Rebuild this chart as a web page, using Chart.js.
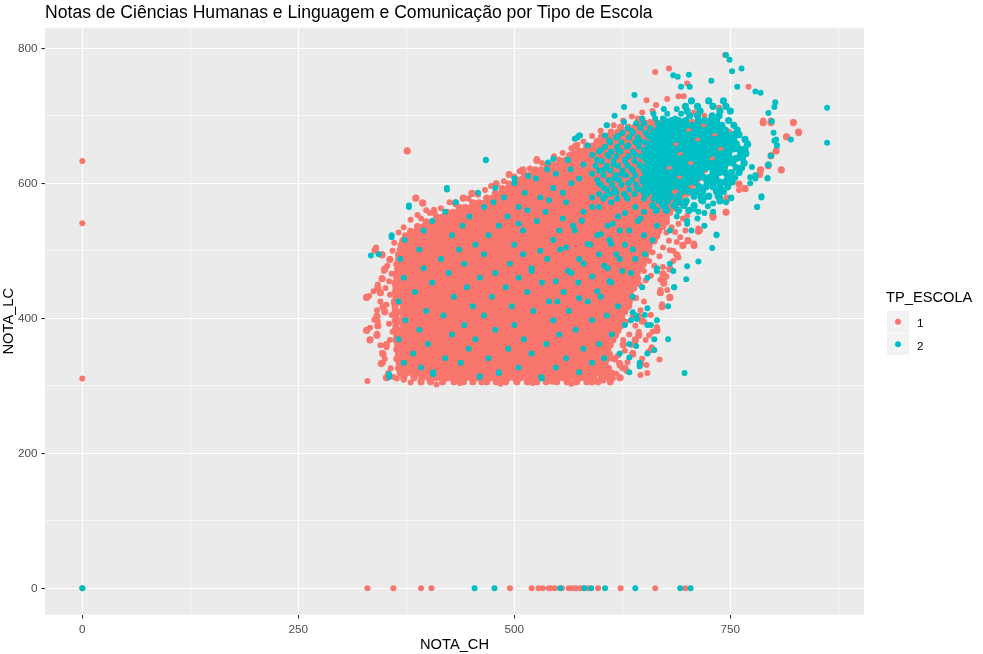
<!DOCTYPE html>
<html>
<head>
<meta charset="utf-8">
<script src="https://cdn.jsdelivr.net/npm/chart.js"></script>
<style>
html,body{margin:0;padding:0;background:#fff;}
#wrap{width:983px;height:654px;}
</style>
</head>
<body>
<div id="wrap"><canvas id="c" width="983" height="654"></canvas></div>
<script>
// ---------- text ----------
const chartTitle = 'Notas de Ciências Humanas e Linguagem e Comunicação por Tipo de Escola';
const xTitle = 'NOTA_CH';
const yTitle = 'NOTA_LC';
const legendTitle = 'TP_ESCOLA';
const seriesLabels = ['1', '2'];
const seriesColors = ['#F8766D', '#00BFC4'];
const xTicks = [0, 125, 250, 375, 500, 625, 750, 875];
const yTicks = [0, 100, 200, 300, 400, 500, 600, 700, 800];

// ---------- TP_ESCOLA = 1 : dense cloud, rows of NOTA_LC with NOTA_CH values ----------
const lc1Rows = [306,312,319,326,333,340,347,354,361,368,375,382,389,396,403,410,417,424,431,438,445,452,459,466,473,480,487,494,501,508,515,522,529,536,543,550,557,564,571,578,585,592,599,606,613,620,627,634,641,648,655,662,669,676,683,690];
const ch1Rows = [
[392,403,417,430,441,452,468,479,490,503,515,526,537,549,561,572,584,597,611],
[352,372,384,393,401,409,416,423,430,437,444,451,458,465,472,479,486,493,500,507,514,521,528,535,542,549,556,563,570,577,584,592,601,610,622],
[368,375,382,389,396,403,410,417,424,431,438,445,452,459,466,473,480,487,494,501,508,515,522,529,536,543,550,557,564,571,578,585,592,599,606,613],
[366,371,378,385,392,399,406,413,420,427,434,441,448,455,462,469,476,483,490,497,504,511,518,525,532,539,546,553,560,567,574,581,588,595,602,609,628],
[346,367,374,381,388,395,402,409,416,423,430,437,444,451,458,465,472,479,486,493,500,507,514,521,528,535,542,549,556,563,570,577,584,591,598,605,622,646],
[364,370,377,384,391,398,405,412,419,426,433,440,447,454,461,468,475,482,489,496,503,510,517,524,531,538,545,552,559,566,573,580,587,594,601,607,616],
[348,366,373,380,387,394,401,408,415,422,429,436,443,450,457,464,471,478,485,492,499,506,513,520,527,534,541,548,555,562,569,576,583,590,597,604,610,637],
[364,370,377,384,391,398,405,412,419,426,433,440,447,454,461,468,475,482,489,496,503,510,517,524,531,538,545,552,559,566,573,580,587,594,601,608,659],
[352,365,373,380,387,394,401,408,415,422,429,436,443,450,457,464,471,478,485,492,499,506,513,520,527,534,541,548,555,562,569,576,583,590,597,604,611,626],
[333,363,369,376,383,390,397,404,411,418,425,432,439,446,453,460,467,474,481,488,495,502,509,516,523,530,537,544,551,558,565,572,579,586,593,600,607,614,640],
[341,364,372,379,386,393,400,407,414,421,428,435,442,449,456,463,470,477,484,491,498,505,512,519,526,533,540,547,554,561,568,575,582,589,596,603,610,617,644],
[329,362,369,376,383,390,397,404,411,418,425,432,439,446,453,460,467,474,481,488,495,502,509,516,523,530,537,544,551,558,565,572,579,586,593,600,607,614,620,665],
[342,363,372,379,386,393,400,407,414,421,428,435,442,449,456,463,470,477,484,491,498,505,512,519,526,533,540,547,554,561,568,575,582,589,596,603,610,617,623],
[362,369,376,383,390,397,404,411,418,425,432,439,446,453,460,467,474,481,488,495,502,509,516,523,530,537,544,551,558,565,572,579,586,593,600,607,614,621,626,648],
[341,363,372,379,386,393,400,407,414,421,428,435,442,449,456,463,470,477,484,491,498,505,512,519,526,533,540,547,554,561,568,575,582,589,596,603,610,617,624,644],
[350,362,369,376,383,390,397,404,411,418,425,432,439,446,453,460,467,474,481,488,495,502,509,516,523,530,537,544,551,558,565,572,579,586,593,600,607,614,621,628],
[348,362,372,379,386,393,400,407,414,421,428,435,442,449,456,463,470,477,484,491,498,505,512,519,526,533,540,547,554,561,568,575,582,589,596,603,610,617,624,631,671],
[361,368,375,382,389,396,403,410,417,424,431,438,445,452,459,466,473,480,487,494,501,508,515,522,529,536,543,550,557,564,571,578,585,592,599,606,613,620,627,633],
[329,363,371,378,385,392,399,406,413,420,427,434,441,448,455,462,469,476,483,490,497,504,511,518,525,532,539,546,553,560,567,574,581,588,595,602,609,616,623,630,636,680],
[345,362,368,375,382,389,396,403,410,417,424,431,438,445,452,459,466,473,480,487,494,501,508,515,522,529,536,543,550,557,564,571,578,585,592,599,606,613,620,627,634,669],
[342,363,371,378,385,392,399,406,413,420,427,434,441,448,455,462,469,476,483,490,497,504,511,518,525,532,539,546,553,560,567,574,581,588,595,602,609,616,623,630,638],
[362,368,375,382,389,396,403,410,417,424,431,438,445,452,459,466,473,480,487,494,501,508,515,522,529,536,543,550,557,564,571,578,585,592,599,606,613,620,627,634,640,673],
[347,364,371,378,385,392,399,406,413,420,427,434,441,448,455,462,469,476,483,490,497,504,511,518,525,532,539,546,553,560,567,574,581,588,595,602,609,616,623,630,637,643],
[363,369,376,383,390,397,404,411,418,425,432,439,446,453,460,467,474,481,488,495,502,509,516,523,530,537,544,551,558,565,572,579,586,593,600,607,614,621,628,635,642,672],
[350,365,372,379,386,393,400,407,414,421,428,435,442,449,456,463,470,477,484,491,498,505,512,519,526,533,540,547,554,561,568,575,582,589,596,603,610,617,624,631,638,646,680],
[364,370,377,384,391,398,405,412,419,426,433,440,447,454,461,468,475,482,489,496,503,510,517,524,531,538,545,552,559,566,573,580,587,594,601,608,615,622,629,636,643,649],
[356,366,373,380,387,394,401,408,415,422,429,436,443,450,457,464,471,478,485,492,499,506,513,520,527,534,541,548,555,562,569,576,583,590,597,604,611,618,625,632,639,646,652],
[347,366,372,379,386,393,400,407,414,421,428,435,442,449,456,463,470,477,484,491,498,505,512,519,526,533,540,547,554,561,568,575,582,589,596,603,610,617,624,631,638,645,652,688],
[339,368,375,382,389,396,403,410,417,424,431,438,445,452,459,466,473,480,487,494,501,508,515,522,529,536,543,550,557,564,571,578,585,592,599,606,613,620,627,634,641,648,655],
[369,376,383,390,397,404,411,418,425,432,439,446,453,460,467,474,481,488,495,502,509,516,523,530,537,544,551,558,565,572,579,586,593,600,607,614,621,628,635,642,649,656,695,708],
[371,378,385,392,399,406,413,420,427,434,441,448,455,462,469,476,483,490,497,504,511,518,525,532,539,546,553,560,567,574,581,588,595,602,609,616,623,630,637,644,651,658,662,701],
[374,381,388,395,402,409,416,423,430,437,444,451,458,465,472,479,486,493,500,507,514,521,528,535,542,549,556,563,570,577,584,591,598,605,612,619,626,633,640,647,654,661,665],
[380,387,394,401,408,415,422,429,436,443,450,457,464,471,478,485,492,499,506,513,520,527,534,541,548,555,562,569,576,583,590,597,604,611,618,625,632,639,646,653,660,667,713],
[388,395,402,409,416,423,430,437,444,451,458,465,472,479,486,493,500,507,514,521,528,535,542,549,556,563,570,577,584,591,598,605,612,619,626,633,640,647,654,661,668,672],
[398,405,412,419,426,433,440,447,454,461,468,475,482,489,496,503,510,517,524,531,538,545,552,559,566,573,580,587,594,601,608,615,622,629,636,643,650,657,664,671,676],
[410,417,424,431,438,445,452,459,466,473,480,487,494,501,508,515,522,529,536,543,550,557,564,571,578,585,592,599,606,613,620,627,634,641,648,655,662,669,676,730],
[407,422,429,436,443,450,457,464,471,478,485,492,499,506,513,520,527,534,541,548,555,562,569,576,583,590,597,604,611,618,625,632,639,646,653,660,667,674,680,745],
[436,443,450,457,464,471,478,485,492,499,506,513,520,527,534,541,548,555,562,569,576,583,590,597,604,611,618,625,632,639,646,653,660,667,674,681,686],
[394,432,452,459,466,473,480,487,494,501,508,515,522,529,536,543,550,557,564,571,578,585,592,599,606,613,620,627,634,641,648,655,662,669,676,683,689],
[386,441,468,475,482,489,496,503,510,517,524,531,538,545,552,559,566,573,580,587,594,601,608,615,622,629,636,643,650,657,664,671,678,685,692,746],
[451,478,485,492,499,506,513,520,527,534,541,548,555,562,569,576,583,590,597,604,611,618,625,632,639,646,653,660,667,674,681,688,695,700],
[486,493,500,507,514,521,528,535,542,549,556,563,570,577,584,591,598,605,612,619,626,633,640,647,654,661,668,675,682,689,696,703,767],
[479,494,501,508,515,522,529,536,543,550,557,564,571,578,585,592,599,606,613,620,627,634,641,648,655,662,669,676,683,690,697,704,708,760],
[502,509,516,523,530,537,544,551,558,565,572,579,586,593,600,607,614,621,628,635,642,649,656,663,670,677,684,691,698,705,712],
[494,512,519,526,533,540,547,554,561,568,575,582,589,596,603,610,617,624,631,638,645,652,659,666,673,680,687,694,701,708,715,784],
[510,524,531,538,545,552,559,566,573,580,587,594,601,608,615,622,629,636,643,650,657,664,671,678,685,692,699,706,713,720,785,809],
[538,545,552,559,566,573,580,587,594,601,608,615,622,629,636,643,650,657,664,671,678,685,692,699,706,713,720,727,794],
[526,552,559,566,573,580,587,594,601,608,615,622,629,636,643,650,657,664,671,678,685,692,699,706,713,720,727,733],
[564,571,578,585,592,599,606,613,620,627,634,641,648,655,662,669,676,683,690,697,704,711,718,725,732,738,797],
[376,574,581,588,595,602,609,616,623,630,637,644,651,658,665,672,679,686,693,700,707,714,721,728,735,742,803],
[571,584,591,598,605,612,619,626,633,640,647,654,661,668,675,682,689,696,703,710,717,724,731,738,745],
[596,603,610,617,624,631,638,645,652,659,666,673,680,687,694,701,708,715,722,729,736,743,748],
[601,608,615,622,629,636,643,650,657,664,671,678,685,692,699,706,713,720,727,734,741,750,815],
[612,620,627,634,641,648,655,662,669,676,683,690,697,704,711,718,725,732,739,748,829],
[623,632,639,646,653,660,667,674,681,688,695,702,709,716,723,730,740],
[643,650,657,664,671,678,685,692,699,706,713,720,728,788,797,823]
];
// TP_ESCOLA = 1 : isolated and edge points
const ch1Extra = [0,0,0,0,330,360,392,404,495,520,528,533,540,542,547,555,563,567,571,576,580,586,597,623,663,698,
 663,679,744,771,700,690,696,677,653,664,660,643,708,720,737,479,494,510,526,441,451,432,407,767,760,746,745,730,715,713,708,729,688,701,785,784,794,823,829,815,797,788,
 386,394,340,347,347,342,332,356,341,350,342,333,341,352,347,348,354,364,330,
 680,669,671,665,659,668,654,646,637,644,622,611,601,588,573,605,614,561,673,680,677,672,669,680,653,630,640,656,
 355,358,352,356,351,358,353,359,361,366,372,380,388,398,345,337,359,356,350,357,360,345,338,355,349,
 410,437,462,484,521,544,566,590,603,380,372,
 618,625,631,620,628,635,626,633,640,629,637,646,633,650,641,623,648,655,652,660,650,658,
 645,652,658,650,662,656,668,660,672,664,676,682,690,695,700,686,679,684,690,676,684,692,698,
 392,402,415,425,447,458,466,473,488,500,506,518,532,546,556,566,580,590,600,615,626,636,648,573,568];
const lc1Extra = [633,541,311,0,0,0,0,0,0,0,0,0,0,0,0,0,0,0,0,0,0,0,0,0,0,0,
 765,770,790,743,748,729,729,725,723,716,707,696,705,700,712,600,613,616,636,578,584,569,561,593,590,575,558,555,531,533,511,553,513,516,620,615,625,690,674,669,693,693,
 578,570,505,495,458,450,433,488,412,409,395,386,377,357,349,334,319,311,307,
 432,442,421,387,357,339,319,316,349,380,330,341,330,313,319,313,311,320,458,474,442,476,457,501,331,322,360,375,
 392,405,420,435,445,466,478,500,512,527,535,546,553,560,425,440,380,368,340,326,313,360,398,455,470,
 302,304,305,303,304,306,303,305,308,305,309,
 318,326,335,345,352,361,368,376,389,395,403,412,418,425,430,312,340,350,368,380,395,405,
 450,456,463,470,478,485,492,498,505,520,527,535,540,548,552,528,515,500,490,462,485,520,530,
 548,556,563,572,577,583,590,596,603,610,618,622,630,640,645,652,662,670,678,686,693,699,705,657,645];

// ---------- TP_ESCOLA = 2 ----------
const lc2SparseRows = [313,320,327,334,341,348,355,362,369,376,383,390,397,404,411,418,425,432,439,446,453,460,467,474,481,488,495,502,509,516,523,530,537,544,551,558,565,572,579,586,593,600,607,614,621,628,635,642,649,656,663,670,677];
const ch2SparseRows = [
[355,460,531],[406,482,575,633],[392,505,548],[372,438,590,645],[420,470,560,604],
[383,520,622,654],[447,493,580],[400,537,598,633],[366,455,511,662],[428,552,613],
[390,478,571],[442,500,628,658],[374,545,590],[418,465,607,641],[398,522,563],
[452,497,620,678],[366,540,585],[430,474,600,637],[385,515,557],[445,490,648,685],
[405,532,574,612],[372,460,505,654],[424,478,566,635],[395,520,608,665],[442,495,580],
[368,415,538,622],[343,465,510,598,651],[390,436,553,637],[455,500,588,628],[373,545,610,660],
[358,428,470,596,650,734],[395,510,552,622,680],[440,482,568,608,665,720],[405,526,578,643,700],[448,492,620,688],
[420,536,580,650,713,730],[378,465,505,598,640,675,781],[432,476,560,612,692,745],[488,530,590,630,720,751,786],[458,512,556,618,650],
[422,478,545,604,642],[500,566,598,632,773],[525,575,616,648,779,793],[548,590,624],[538,565,604,636],
[580,615,645,794],[467,562,596,628],[590,608,640],[600,620,650],[585,632,660,804],
[610,645,668,801],[620,655],[636,664]
];
const lc2MidRows = [577,584,591,598,605,612,619,626,633,640,647,654,661,668,675,682,689,696,703,710];
const ch2MidRows = [
[603,619,631,650,661],
[598,611,627,639,654],
[607,616,633,645,658],
[600,613,624,641,652,663],
[596,609,621,636,648,660],
[603,617,629,640,656],
[598,611,625,637,650,663],
[594,607,620,631,645,657,668],
[601,615,628,639,653,665],
[609,618,632,647,659,670],
[598,612,623,637,651,662],
[605,619,630,644,657,668],
[611,624,640,651,665,675],
[618,633,643,658,670],
[625,637,652,663,676],
[631,646,657,670,681],
[641,650,666,677,688],
[648,663,672,686],
[661,677,693],
[673,688]
];
const lc2CoreRows = [560,567,574,581,588,595,602,609,616,623,630,637,644,651,658,665,672,679,686,693,700,707,714,722];
const ch2CoreRows = [
[664,676,690,702],
[660,672,685,696,708],
[668,677,688,699,718,738],
[664,672,681,690,708,716,725,736],
[655,662,670,678,694,702,710,718,734,742],
[652,659,666,674,682,690,698,714,722,730,738,747],
[650,658,665,672,680,688,695,702,709,723,730,737,744,752],
[654,662,669,677,684,698,705,712,719,726,733,747,755],
[652,660,667,674,681,688,695,702,709,716,730,737,744,751,760],
[650,658,665,672,687,694,701,708,715,722,729,736,743,757,763],
[655,662,669,676,683,690,697,711,718,725,732,739,746,753,766],
[652,659,666,673,680,687,694,701,708,715,722,736,743,750,757,764],
[656,664,671,678,685,699,706,713,720,727,734,741,748,762,768],
[654,662,669,676,683,690,697,704,711,718,725,732,746,753,760,767],
[658,666,673,680,694,701,708,715,722,729,736,743,750,757,770],
[662,670,677,684,691,698,705,719,726,733,740,747,754,767],
[660,668,675,682,690,697,704,711,718,725,739,746,753,760],
[666,674,681,688,695,709,716,723,730,737,744,758],
[668,676,683,690,698,705,712,726,733,740,754],
[674,682,690,698,713,720,727,734,748],
[703,712,729,737],
[700,715,738,750],
[698,712,730,745],
[705,725,742]
];
const ch2Extra = [0,454,477,553,581,589,605,640,692,704,
 862,862,802,801,794,798,800,820,803,804,797,794,793,786,781,779,773,775,749,752,763,745,728,758,779,785,639,627,684,689,702,693,703,751,
 734,729,713,700,699,685,665,678,662,697,645,641,633,654,651,642,635,684,680,665,654,637,
 467,422,378,358,334,570,575,562,616,607,500,516,539,545,576,605,355,406,460,482,532,
 700,712,720,705,724,716,690,698,708,730,738,742,
 548,562,575,590,604,618,585,600,614,628,570,556,590,606,540,625,640,560,578,612,633,646,596,610,575,550,520,530,505,515,573,607,627];
const lc2Extra = [0,0,0,0,0,0,0,0,0,0,
 712,660,720,713,704,692,675,665,665,656,641,627,608,581,565,612,609,624,783,766,770,790,752,743,736,734,731,713,760,758,761,743,743,578,
 524,504,484,477,458,446,397,369,353,319,329,359,342,390,405,399,397,470,481,470,415,409,
 634,591,567,520,493,666,671,634,700,686,607,611,631,636,671,671,317,317,314,319,311,
 540,548,556,530,566,575,560,570,562,570,580,590,
 455,470,488,462,478,495,510,525,540,556,530,548,565,582,575,470,488,505,545,510,530,548,440,455,430,425,470,500,540,560,668,686,691];

// ---------- build points from the arrays ----------
function rowsToPoints(lcRows, chRows) {
  const pts = [];
  lcRows.forEach((lc, i) => (chRows[i] || []).forEach(ch => pts.push({x: ch, y: lc})));
  return pts;
}
function pairsToPoints(ch, lc) {
  const pts = [];
  const n = Math.min(ch.length, lc.length);
  for (let i = 0; i < n; i++) pts.push({x: ch[i], y: lc[i]});
  return pts;
}
const escola1Dense = rowsToPoints(lc1Rows, ch1Rows);
const escola1 = escola1Dense.concat(pairsToPoints(ch1Extra, lc1Extra));
const escola2Loose = rowsToPoints(lc2SparseRows, ch2SparseRows).concat(rowsToPoints(lc2MidRows, ch2MidRows));
const escola2Core = rowsToPoints(lc2CoreRows, ch2CoreRows);
const escola2 = escola2Loose.concat(escola2Core).concat(pairsToPoints(ch2Extra, lc2Extra));

const FONT = '"Liberation Sans", Arial, Helvetica, sans-serif';
const R_POINT = 3;      // single points
const R_DENSE = 3.6;    // overlapping points of the dense clouds
const r1 = c => (c.dataIndex < escola1Dense.length ? R_DENSE : R_POINT);
const r2 = c => {
  const i = c.dataIndex;
  return (i >= escola2Loose.length && i < escola2Loose.length + escola2Core.length) ? R_DENSE : R_POINT;
};

const panelBg = {
  id: 'panelBg',
  beforeDraw(chart) {
    const {ctx, chartArea: a} = chart;
    ctx.save();
    ctx.fillStyle = '#FFFFFF';
    ctx.fillRect(0, 0, chart.width, chart.height);
    ctx.fillStyle = '#EBEBEB';
    ctx.fillRect(a.left, a.top, a.right - a.left, a.bottom - a.top);
    ctx.restore();
  }
};

const ggLegend = {
  id: 'ggLegend',
  afterDraw(chart) {
    const ctx = chart.ctx;
    ctx.save();
    ctx.textAlign = 'left';
    ctx.textBaseline = 'alphabetic';
    ctx.fillStyle = '#000000';
    ctx.font = '14.67px ' + FONT;
    ctx.fillText(legendTitle, 886, 302);
    const keyTops = [311, 333.5];
    chart.data.datasets.forEach((ds, i) => {
      const top = keyTops[i];
      ctx.fillStyle = '#F2F2F2';
      ctx.fillRect(887, top, 22, 21.5);
      ctx.fillStyle = ds.backgroundColor;
      ctx.beginPath();
      ctx.arc(898, top + 10.8, 3, 0, Math.PI * 2);
      ctx.fill();
      ctx.fillStyle = '#000000';
      ctx.font = '11.73px ' + FONT;
      ctx.fillText(ds.label, 917, top + 16.3);
    });
    ctx.restore();
  }
};

new Chart(document.getElementById('c'), {
  type: 'scatter',
  data: {
    datasets: [
      {label: seriesLabels[0], data: escola1, backgroundColor: seriesColors[0], borderWidth: 0,
       pointRadius: r1, pointHoverRadius: r1, order: 1},
      {label: seriesLabels[1], data: escola2, backgroundColor: seriesColors[1], borderWidth: 0,
       pointRadius: r2, pointHoverRadius: r2, order: 0}
    ]
  },
  options: {
    responsive: false,
    devicePixelRatio: 1,
    animation: false,
    events: [],
    layout: {padding: {left: 0, right: 119, top: 0, bottom: 0}},
    plugins: {
      legend: {display: false},
      tooltip: {enabled: false},
      title: {
        display: true, text: chartTitle, align: 'start', fullSize: false,
        color: '#000000', font: {family: FONT, size: 17.6, weight: 'normal'},
        padding: {top: 2.5, bottom: 4.1}
      }
    },
    scales: {
      x: {
        type: 'linear', min: -43.2, max: 904.7,
        afterBuildTicks: s => { s.ticks = xTicks.map(v => ({value: v})); },
        afterFit: s => { s.height = 39.3; },
        border: {display: false},
        grid: {
          color: '#FFFFFF',
          lineWidth: c => (c.tick && c.tick.value % 250 === 0) ? 1.1 : 0.6,
          tickColor: c => (c.tick && c.tick.value % 250 === 0) ? '#333333' : 'rgba(0,0,0,0)',
          tickLength: 3.7, tickWidth: 1.1, drawTicks: true
        },
        ticks: {
          autoSkip: false, maxRotation: 0, padding: 4.2, color: '#4D4D4D',
          font: {family: FONT, size: 11.73},
          callback: v => (v % 250 === 0 ? String(v) : '')
        },
        title: {display: true, text: xTitle, color: '#000000', font: {family: FONT, size: 14.67}, padding: {top: 0, bottom: 0}}
      },
      y: {
        type: 'linear', min: -39.1, max: 830.5,
        afterBuildTicks: s => { s.ticks = yTicks.map(v => ({value: v})); },
        afterFit: s => { s.width = 45; },
        border: {display: false},
        grid: {
          color: '#FFFFFF',
          lineWidth: c => (c.tick && c.tick.value % 200 === 0) ? 1.1 : 0.6,
          tickColor: c => (c.tick && c.tick.value % 200 === 0) ? '#333333' : 'rgba(0,0,0,0)',
          tickLength: 3.7, tickWidth: 1.1, drawTicks: true
        },
        ticks: {
          autoSkip: false, padding: 3.8, color: '#4D4D4D',
          font: {family: FONT, size: 11.73},
          callback: v => (v % 200 === 0 ? String(v) : '')
        },
        title: {display: true, text: yTitle, color: '#000000', font: {family: FONT, size: 14.67}, padding: {top: 0, bottom: 0}}
      }
    }
  },
  plugins: [panelBg, ggLegend]
});
</script>
</body>
</html>
